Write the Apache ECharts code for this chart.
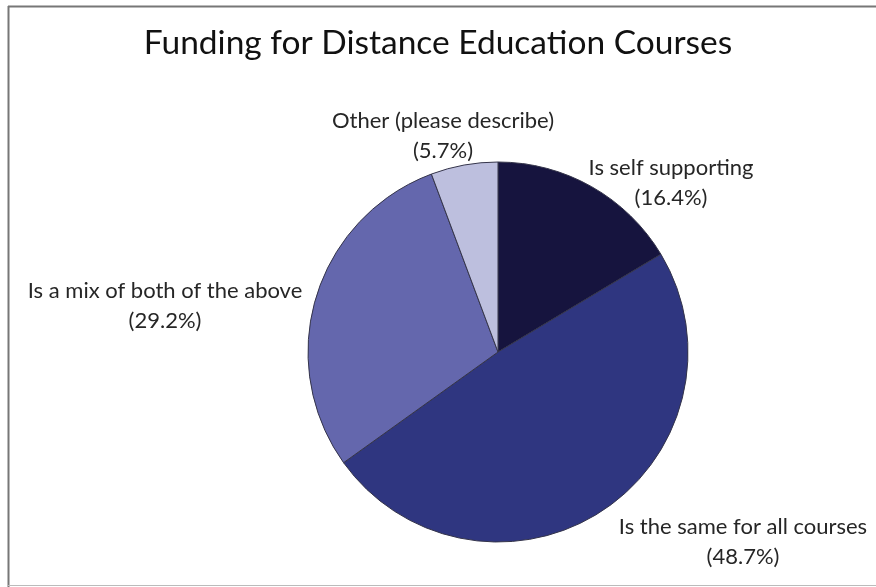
<!DOCTYPE html>
<html><head><meta charset="utf-8">
<script src="https://cdn.jsdelivr.net/npm/echarts@6/dist/echarts.min.js"></script>
<style>html,body{margin:0;padding:0;background:#fff}#c{width:876px;height:587px}</style>
</head><body><div id="c"></div>
<script>
var titleText = 'Funding for Distance Education Courses';
var categories = ['Is self supporting', 'Is the same for all courses', 'Is a mix of both of the above', 'Other (please describe)'];
var values = [16.4, 48.7, 29.2, 5.7];
var colors = ['#16143e', '#2f3680', '#6467ad', '#bdbfde'];

// label centre offsets from pie centre (layout only)
var labelOffsets = [[173, -169], [245, 190], [-333, -46], [-55, -216]];

var chart = echarts.init(document.getElementById('c'));
var cx = 498, cy = 352;
chart.setOption({
  animation: false,
  title: {
    text: titleText, left: 'center', top: 21,
    textStyle: {fontFamily: 'Lato', fontSize: 33.5, fontWeight: 'normal', color: '#111'}
  },
  graphic: [
    {type: 'line', shape: {x1: 8, y1: 6.5, x2: 876, y2: 6.5}, style: {stroke: '#777', lineWidth: 2}},
    {type: 'line', shape: {x1: 8.5, y1: 6, x2: 8.5, y2: 587}, style: {stroke: '#777', lineWidth: 2}},
    {type: 'line', shape: {x1: 8, y1: 585.5, x2: 876, y2: 585.5}, style: {stroke: '#bbb', lineWidth: 1}}
  ],
  series: [{
    type: 'pie',
    center: [cx, cy],
    radius: 190,
    startAngle: 90,
    clockwise: true,
    data: categories.map(function (n, i) {
      return {name: n, value: values[i], itemStyle: {color: colors[i]}};
    }),
    itemStyle: {borderColor: '#34344a', borderWidth: 1},
    label: {
      show: true, position: 'outside', overflow: 'none', width: 400,
      formatter: function (p) { return p.name + '\n(' + p.value.toFixed(1) + '%)'; },
      fontFamily: 'Lato', fontSize: 22, lineHeight: 30, color: '#262626', align: 'center'
    },
    labelLine: {show: false},
    labelLayout: function (p) {
      var o = labelOffsets[p.dataIndex];
      return {x: cx + o[0], y: cy + o[1], align: 'center', verticalAlign: 'middle'};
    },
    emphasis: {disabled: true}
  }]
});
</script></body></html>
